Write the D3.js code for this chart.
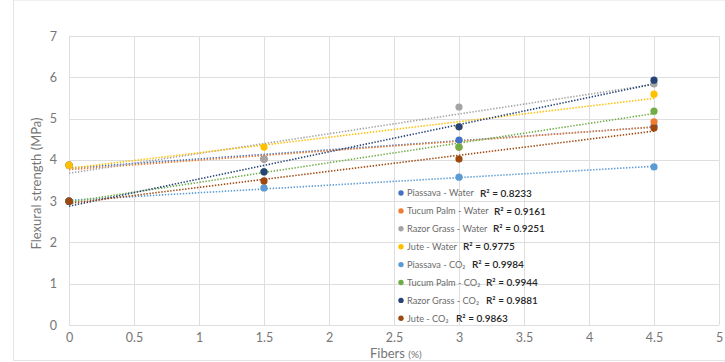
<!DOCTYPE html>
<html>
<head>
<meta charset="utf-8">
<script src="https://cdn.jsdelivr.net/npm/d3@7"></script>
<style>
  html, body { margin: 0; padding: 0; background: #fff; }
  svg { display: block; font-family: "Lato", "Open Sans", sans-serif; }
</style>
</head>
<body>
<svg id="chart" width="725" height="362"></svg>
<script>
// Fiber content (%) on the x axis
const fibers = [0, 1.5, 3, 4.5];

// Flexural strength (MPa) per fiber / curing condition
const piassavaWater   = [3.87, 4.02, 4.48, 4.82];
const tucumPalmWater  = [3.87, 4.02, 4.31, 4.92];
const razorGrassWater = [3.87, 4.02, 5.28, 5.84];
const juteWater       = [3.87, 4.31, 4.80, 5.59];
const piassavaCO2     = [3.00, 3.32, 3.58, 3.83];
const tucumPalmCO2    = [3.00, 3.71, 4.31, 5.18];
const razorGrassCO2   = [3.00, 3.71, 4.80, 5.93];
const juteCO2         = [3.00, 3.49, 4.02, 4.77];

const seriesNames = [
  "Piassava - Water", "Tucum Palm - Water", "Razor Grass - Water", "Jute - Water",
  "Piassava - CO\u2082", "Tucum Palm - CO\u2082", "Razor Grass - CO\u2082", "Jute - CO\u2082"
];
const rSquared = ["0.8233", "0.9161", "0.9251", "0.9775", "0.9984", "0.9944", "0.9881", "0.9863"];
const seriesColors = ["#4472C4", "#ED7D31", "#A5A5A5", "#FFC000", "#5B9BD5", "#70AD47", "#264478", "#9E480E"];
const seriesValues = [piassavaWater, tucumPalmWater, razorGrassWater, juteWater,
                      piassavaCO2, tucumPalmCO2, razorGrassCO2, juteCO2];

const xTicks = [0, 0.5, 1, 1.5, 2, 2.5, 3, 3.5, 4, 4.5, 5];
const yTicks = [0, 1, 2, 3, 4, 5, 6, 7];

const svg = d3.select("#chart");
const x = d3.scaleLinear().domain([0, 5]).range([69, 719]);
const y = d3.scaleLinear().domain([0, 7]).range([325, 36]);

// outer chart frame
svg.append("rect").attr("x", 13.5).attr("y", 0).attr("width", 720).attr("height", 360.5)
  .attr("fill", "none").attr("stroke", "#e4e4e4");

// gridlines
const grid = svg.append("g").attr("stroke", "#dedede").attr("stroke-width", 1);
grid.selectAll(".h").data(yTicks).join("line")
  .attr("x1", x(0)).attr("x2", x(5))
  .attr("y1", d => Math.round(y(d)) + 0.5).attr("y2", d => Math.round(y(d)) + 0.5);
grid.selectAll(".v").data(xTicks).join("line")
  .attr("y1", y(0)).attr("y2", y(7))
  .attr("x1", d => Math.round(x(d)) + 0.5).attr("x2", d => Math.round(x(d)) + 0.5);

// axes (labels only)
const yAxis = svg.append("g").attr("transform", `translate(${x(0)},0)`)
  .call(d3.axisLeft(y).tickValues(yTicks).tickSize(0).tickPadding(12).tickFormat(d3.format("d")));
const xAxis = svg.append("g").attr("transform", `translate(0,${y(0)})`)
  .call(d3.axisBottom(x).tickValues(xTicks).tickSize(0).tickPadding(8).tickFormat(d => String(d)));
[yAxis, xAxis].forEach(a => {
  a.select(".domain").remove();
  a.selectAll("text").attr("fill", "#767676").attr("font-size", 12.5).attr("font-family", "Lato, sans-serif");
});

// axis titles
svg.append("text").attr("transform", `translate(41,${(y(0) + y(7)) / 2 + 3}) rotate(-90)`)
  .attr("text-anchor", "middle").attr("fill", "#767676").attr("font-size", 13)
  .text("Flexural strength (MPa)");
const xt = svg.append("text").attr("x", 370).attr("y", 358).attr("fill", "#767676").attr("font-size", 13);
xt.append("tspan").text("Fibers ");
xt.append("tspan").attr("font-size", 10).text("(%)");

// least-squares linear trend
function linearFit(xs, ys) {
  const mx = d3.mean(xs), my = d3.mean(ys);
  const b = d3.sum(xs, (v, i) => (v - mx) * (ys[i] - my)) / d3.sum(xs, v => (v - mx) ** 2);
  return { a: my - b * mx, b };
}

const series = seriesValues.map((vals, i) => ({
  name: seriesNames[i], color: seriesColors[i], r2: rSquared[i],
  points: fibers.map((f, j) => ({ f, v: vals[j] })),
  fit: linearFit(fibers, vals)
}));

// trendlines
const line = d3.line().x(d => x(d[0])).y(d => y(d[1]));
svg.append("g").selectAll("path").data(series).join("path")
  .attr("d", s => line([0, 4.5].map(f => [f, s.fit.a + s.fit.b * f])))
  .attr("fill", "none").attr("stroke", s => s.color).attr("stroke-width", 1.6)
  .attr("stroke-dasharray", "1.4,1.6");

// markers
svg.append("g").selectAll("g").data(series).join("g")
  .attr("fill", s => s.color)
  .selectAll("circle").data(s => s.points).join("circle")
  .attr("cx", d => x(d.f)).attr("cy", d => y(d.v)).attr("r", 3.6);

// legend with trendline R² values
const r2X = [480, 494, 493, 463, 472, 486, 486, 456];
const leg = svg.append("g");
series.forEach((s, i) => {
  const ly = 193 + i * 17.9;
  leg.append("circle").attr("cx", 401).attr("cy", ly).attr("r", 2.7).attr("fill", s.color);
  leg.append("text").attr("x", 407).attr("y", ly + 3.4).attr("font-size", 9.2)
    .attr("fill", "#6b6b6b").text(s.name);
  leg.append("text").attr("x", r2X[i]).attr("y", ly + 3.6).attr("font-size", 10)
    .attr("font-weight", 600).attr("fill", "#262626").text("R\u00B2 = " + s.r2);
});
</script>
</body>
</html>
